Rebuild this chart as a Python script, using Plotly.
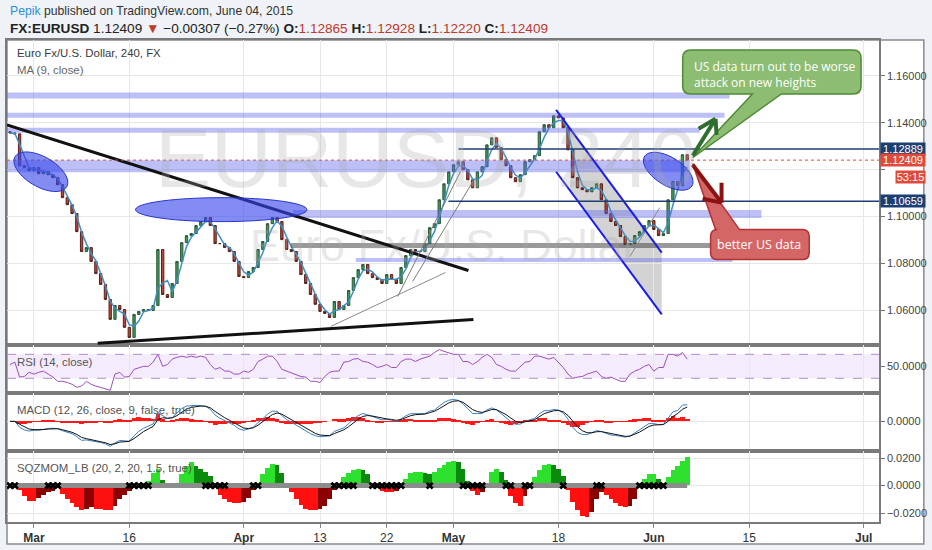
import numpy as np
import pandas as pd
import plotly.graph_objects as go
from plotly.subplots import make_subplots

# ---------------- data ----------------
first_open = 1.1362
# half-day closes, EUR/USD, from Feb 26 to Jun 04 2015
closes = [1.1357, 1.1353, 1.1217, 1.1209, 1.1196, 1.1209, 1.1183, 1.1192, 1.1179, 1.1166,
          1.1136, 1.1081, 1.1051, 1.1013, 1.0936, 1.0851, 1.0868, 1.0809, 1.0757, 1.0711,
          1.0647, 1.0562, 1.0621, 1.0604, 1.0528, 1.0485, 1.0583, 1.0596, 1.0604, 1.0600,
          1.0621, 1.0860, 1.0668, 1.0655, 1.0715, 1.0809, 1.0889, 1.0919, 1.0928, 1.0962,
          1.0979, 1.0996, 1.0962, 1.0885, 1.0885, 1.0868, 1.0851, 1.0809, 1.0745, 1.0740,
          1.0766, 1.0783, 1.0860, 1.0894, 1.0970, 1.0996, 1.0979, 1.0902, 1.0860, 1.0851,
          1.0809, 1.0753, 1.0715, 1.0668, 1.0626, 1.0596, 1.0587, 1.0570, 1.0638, 1.0604,
          1.0621, 1.0685, 1.0740, 1.0774, 1.0796, 1.0757, 1.0740, 1.0732, 1.0715, 1.0753,
          1.0732, 1.0715, 1.0783, 1.0834, 1.0860, 1.0851, 1.0851, 1.0885, 1.0953, 1.0970,
          1.1072, 1.1140, 1.1191, 1.1221, 1.1234, 1.1200, 1.1157, 1.1123, 1.1191, 1.1213,
          1.1306, 1.1336, 1.1294, 1.1243, 1.1217, 1.1166, 1.1149, 1.1179, 1.1234, 1.1243,
          1.1260, 1.1362, 1.1392, 1.1379, 1.1430, 1.1421, 1.1379, 1.1285, 1.1166, 1.1123,
          1.1115, 1.1106, 1.1123, 1.1140, 1.1072, 1.1013, 1.0979, 1.0962, 1.0915, 1.0881,
          1.0885, 1.0919, 1.0936, 1.0962, 1.0983, 1.0945, 1.0919, 1.0928, 1.1072, 1.1149,
          1.1132, 1.1264, 1.12409]

# RSI (14, close)
rsi_vals = [53, 57, 32, 33, 40, 37, 40, 42, 37, 32,
            25, 25, 23, 20, 15, 17, 25, 20, 17, 15,
            12, 10, 37, 40, 32, 33, 45, 48, 50, 50,
            57, 70, 50, 53, 62, 65, 67, 65, 67, 65,
            67, 65, 53, 45, 48, 42, 42, 37, 37, 42,
            40, 45, 58, 62, 67, 67, 58, 45, 42, 40,
            37, 33, 32, 25, 25, 23, 33, 40, 42, 42,
            57, 58, 62, 63, 58, 57, 53, 48, 50, 53,
            48, 48, 58, 62, 62, 58, 62, 65, 67, 73,
            78, 75, 73, 70, 70, 58, 58, 53, 58, 65,
            70, 65, 53, 50, 45, 42, 42, 50, 57, 58,
            67, 67, 65, 62, 65, 57, 48, 37, 30, 32,
            33, 37, 40, 42, 33, 30, 32, 28, 25, 25,
            37, 42, 45, 50, 53, 42, 48, 48, 70, 70,
            67, 73, 62]

# squeeze momentum histogram
sqz_mom = [0.000, 0.000, -0.003, -0.008, -0.011, -0.011, -0.009, -0.007, -0.005, -0.004,
           -0.002, -0.006, -0.010, -0.013, -0.016, -0.018, -0.017, -0.016, -0.017, -0.017,
           -0.018, -0.018, -0.015, -0.010, -0.007, -0.004, -0.001, 0.000, 0.000, 0.003,
           0.009, 0.012, 0.004, 0.000, -0.001, 0.001, 0.008, 0.014, 0.017, 0.014,
           0.012, 0.010, 0.007, -0.002, -0.007, -0.010, -0.012, -0.013, -0.013, -0.012,
           -0.009, -0.003, 0.001, 0.008, 0.013, 0.016, 0.015, 0.009, 0.002, -0.005,
           -0.010, -0.014, -0.017, -0.018, -0.018, -0.017, -0.015, -0.010, -0.003, 0.002,
           0.006, 0.009, 0.011, 0.012, 0.011, 0.008, 0.002, -0.002, -0.004, -0.005,
           -0.005, -0.004, -0.001, 0.005, 0.009, 0.010, 0.010, 0.009, 0.008, 0.010,
           0.013, 0.015, 0.017, 0.018, 0.017, 0.012, 0.003, -0.004, -0.007, -0.005,
           0.002, 0.010, 0.012, 0.010, 0.004, -0.008, -0.013, -0.015, -0.008, -0.002,
           0.006, 0.011, 0.015, 0.016, 0.015, 0.012, 0.007, -0.003, -0.012, -0.018,
           -0.022, -0.023, -0.019, -0.010, -0.005, -0.007, -0.010, -0.013, -0.015, -0.016,
           -0.015, -0.010, -0.002, 0.005, 0.008, 0.008, 0.005, 0.002, 0.006, 0.011,
           0.014, 0.018, 0.021]

# squeeze-on stretches (trading-day units)
squeeze_on = [(-2.7, -1.6), (1.4, 2.6), (10.0, 12.3), (17.9, 20.4), (23.0, 23.6),
              (31.5, 33.5), (35.3, 38.8), (41.1, 41.8), (45.0, 47.4), (49.3, 50.1),
              (51.1, 52.4), (55.1, 55.8), (58.9, 59.7), (63.1, 66.2)]

tick_days = [0, 10, 22, 30, 37, 44, 55, 65, 75, 87]
tick_labels = ['<b>Mar</b>', '16', '<b>Apr</b>', '13', '22', '<b>May</b>', '18',
               '<b>Jun</b>', '15', '<b>Jul</b>']
price_ticks = [1.06, 1.08, 1.10, 1.12, 1.14, 1.16]
price_tick_text = ['1.06000', '1.08000', '1.10000', '', '1.14000', '1.16000']
level_hi = 1.12889
level_lo = 1.10659
last_price = 1.12409
band_levels = [1.1517, 1.1432, 1.1368, 1.1215, 1.1011, 1.0815]
gray_level = 1.0877

# ---------------- geometry helpers ----------------
L_PX, R_PX, T_PX, B_PX = 5, 880, 40, 523
X0_PX, PX_DAY = 32.0, 9.57
P_REF, Y_REF, PX_PRICE = 1.16, 76.0, 2350.0


def dx(px):
    return (px - X0_PX) / PX_DAY


def dp(py):
    return P_REF - (py - Y_REF) / PX_PRICE


def pxp(p):
    return Y_REF + (P_REF - p) * PX_PRICE


def paper_x(px):
    return (px - L_PX) / (R_PX - L_PX)


def paper_y(py):
    return (B_PX - py) / (B_PX - T_PX)


def P(x, y):
    return f"{dx(x):.5f},{dp(y):.6f}"


# ---------------- derived series ----------------
c = np.array(closes)
o = np.r_[first_open, c[:-1]]
h = np.maximum(o, c)
lo = np.minimum(o, c)
days = -2.5 + 0.5 * np.arange(len(c))
s = pd.Series(c)
ma = s.rolling(3, min_periods=1).mean()

macd = s.ewm(span=4, adjust=False).mean() - s.ewm(span=9, adjust=False).mean()
sig = macd.ewm(span=3, adjust=False).mean()
hist = macd - sig

sq = np.array(sqz_mom)
sq_col = []
for i, v in enumerate(sq):
    pv = sq[i - 1] if i > 0 else 0
    if v >= 0:
        sq_col.append('#2ee02e' if v >= pv else '#0a8a0a')
    else:
        sq_col.append('#ff1010' if v <= pv else '#8b0000')
on = np.array([any(a <= d <= b for a, b in squeeze_on) for d in days])

# ---------------- figure ----------------
fig = make_subplots(rows=4, cols=1, shared_xaxes=True, vertical_spacing=0)

fig.add_trace(go.Candlestick(
    x=days, open=o, high=h, low=lo, close=c,
    increasing=dict(line=dict(color='#2c5a36', width=1), fillcolor='#3f9a5c'),
    decreasing=dict(line=dict(color='#5a2119', width=1), fillcolor='#b8473a'),
    whiskerwidth=0, showlegend=False, hoverinfo='skip'), row=1, col=1)
fig.add_trace(go.Scatter(x=days, y=ma, mode='lines',
                         line=dict(color='#3d8fc6', width=1.5),
                         showlegend=False, hoverinfo='skip'), row=1, col=1)

fig.add_trace(go.Scatter(x=days, y=rsi_vals, mode='lines',
                         line=dict(color='#9b4fb8', width=1),
                         showlegend=False, hoverinfo='skip'), row=2, col=1)

fig.add_trace(go.Bar(x=days, y=hist, marker=dict(color='#ff1a1a', line=dict(width=0)),
                     width=0.5, showlegend=False, hoverinfo='skip'), row=3, col=1)
fig.add_trace(go.Scatter(x=days, y=macd, mode='lines', line=dict(color='#3a7fc0', width=1),
                         showlegend=False, hoverinfo='skip'), row=3, col=1)
fig.add_trace(go.Scatter(x=days, y=sig, mode='lines', line=dict(color='#111111', width=1),
                         showlegend=False, hoverinfo='skip'), row=3, col=1)

fig.add_trace(go.Bar(x=days, y=sq, marker=dict(color=sq_col, line=dict(width=0)),
                     width=0.5, showlegend=False, hoverinfo='skip'), row=4, col=1)
fig.add_trace(go.Scatter(x=days, y=np.zeros(len(days)), mode='lines',
                         line=dict(color='#8c8c8c', width=5),
                         showlegend=False, hoverinfo='skip'), row=4, col=1)
fig.add_trace(go.Scatter(x=days[on], y=np.zeros(on.sum()), mode='markers',
                         marker=dict(symbol='x', size=7, color='#000000',
                                     line=dict(width=0)),
                         showlegend=False, hoverinfo='skip'), row=4, col=1)

AXF = dict(family='Liberation Sans, Arial', size=11, color='#444444')
grid = '#e7e7e7'
frame = '#7a7a7a'
xr = [dx(L_PX), dx(R_PX)]
for i in range(1, 5):
    key = 'xaxis' if i == 1 else f'xaxis{i}'
    fig.layout[key].update(range=xr, tickvals=tick_days, ticktext=tick_labels,
                           showgrid=True, gridcolor=grid, zeroline=False,
                           showline=True, mirror=True, linecolor=frame, linewidth=1.5,
                           showticklabels=(i == 4), ticks='outside' if i == 4 else '',
                           ticklen=4, tickcolor='#888',
                           tickfont=dict(family='Liberation Sans, Arial', size=12,
                                         color='#333'),
                           rangeslider=dict(visible=False), fixedrange=True)

d_main = [paper_y(346), 1]
d_rsi = [paper_y(394), paper_y(346)]
d_macd = [paper_y(452), paper_y(394)]
d_sqz = [0, paper_y(452)]

fig.update_layout(
    yaxis=dict(domain=d_main, range=[dp(346), dp(T_PX)],
               side='right', tickvals=price_ticks, ticktext=price_tick_text,
               showgrid=True, gridcolor=grid, zeroline=False, showline=True, mirror=True,
               linecolor=frame, linewidth=1.5, ticks='outside', ticklen=4,
               tickcolor='#777', tickfont=AXF),
    yaxis2=dict(domain=d_rsi, range=[5, 85], side='right', tickvals=[50],
                ticktext=['50.0000'], showgrid=False, zeroline=False, showline=True,
                mirror=True, linecolor=frame, linewidth=1.5, ticks='outside',
                ticklen=4, tickcolor='#777', tickfont=AXF),
)
m_pos = float(max(macd.max(), sig.max()))
m_neg = float(-min(macd.min(), sig.min()))
fig.update_layout(
    yaxis3=dict(domain=d_macd, range=[-m_neg * 31 / 26, m_pos * 27 / 21], side='right',
                tickvals=[0], ticktext=['0.0000'], showgrid=True, gridcolor=grid,
                zeroline=False, showline=True, mirror=True, linecolor=frame,
                linewidth=1.5, ticks='outside', ticklen=4, tickcolor='#777',
                tickfont=AXF),
    yaxis4=dict(domain=d_sqz, range=[-0.0265, 0.0251], side='right',
                tickvals=[-0.02, 0, 0.02], ticktext=['\u22120.0200', '0.0000', '0.0200'],
                showgrid=True, gridcolor=grid, zeroline=False, showline=True,
                mirror=True, linecolor=frame, linewidth=1.5, ticks='outside',
                ticklen=4, tickcolor='#777', tickfont=AXF),
)

shapes = []

# outer white frame
shapes.append(dict(type='rect', xref='paper', yref='paper', x0=0, x1=paper_x(925),
                   y0=paper_y(545), y1=1, fillcolor='white',
                   line=dict(color='#8a8a8a', width=1.5), layer='below'))

# RSI band
shapes.append(dict(type='rect', xref='x2 domain', yref='y2', x0=0, x1=1, y0=30, y1=70,
                   fillcolor='rgba(170,110,230,0.13)', line=dict(width=0), layer='below'))
for lvl in (30, 70):
    shapes.append(dict(type='line', xref='x2 domain', yref='y2', x0=0, x1=1, y0=lvl, y1=lvl,
                       line=dict(color='#b58cc9', width=1, dash='dash')))


def hband(level, x0, x1, thick, color):
    yc = pxp(level)
    shapes.append(dict(type='rect', xref='x', yref='y', x0=dx(x0), x1=dx(x1),
                       y0=dp(yc + thick / 2), y1=dp(yc - thick / 2),
                       fillcolor=color, line=dict(width=0), layer='above'))


lav = 'rgba(95,105,235,0.42)'
band_extent = [(5, 730, 6), (5, 725, 5), (5, 700, 5), (5, 690, 12), (292, 762, 8), (355, 733, 4)]
for lvl, (a, b, t) in zip(band_levels, band_extent):
    hband(lvl, a, b, t, lav)
hband(gray_level, 290, 715, 5, 'rgba(70,70,70,0.55)')


def pline(x0, y0, x1, y1, color, width, dash='solid', layer='above'):
    shapes.append(dict(type='line', xref='x', yref='y', x0=dx(x0), y0=dp(y0),
                       x1=dx(x1), y1=dp(y1), layer=layer,
                       line=dict(color=color, width=width, dash=dash)))


# grey shaded part of the channel
shapes.append(dict(type='path', xref='x', yref='y', layer='below',
                   path=f"M {P(570,129)} L {P(662,253)} L {P(662,315)} L {P(570,191)} Z",
                   fillcolor='rgba(120,120,120,0.33)', line=dict(width=0)))

# trendlines
pline(5, 125, 468, 271, '#111111', 3)
pline(96, 344, 473, 320, '#111111', 3)
pline(330, 327, 445, 273, '#8a8a8a', 1)
pline(397, 297, 460, 172, '#7a7a7a', 1)
pline(412, 282, 473, 181, '#7a7a7a', 1)
pline(630, 257, 660, 208, '#8a8a8a', 1)
# channel
pline(556, 110, 662, 253, '#1c1ce8', 2)
pline(556, 172, 662, 315, '#1c1ce8', 2)
# levels
hy = pxp(level_hi)
ly = pxp(level_lo)
cy = pxp(last_price)
pline(458, hy, 880, hy, '#1f3d70', 1.5)
pline(448, ly, 880, ly, '#1f3d70', 1.5)
pline(5, cy, 880, cy, '#e04a3a', 1, 'dot')


def ellipse(cx, cy_, a, b, ang):
    t = np.linspace(0, 2 * np.pi, 60)
    th = np.deg2rad(ang)
    xs = cx + a * np.cos(t) * np.cos(th) - b * np.sin(t) * np.sin(th)
    ys = cy_ + a * np.cos(t) * np.sin(th) + b * np.sin(t) * np.cos(th)
    pts = ' L '.join(P(x, y) for x, y in zip(xs, ys))
    shapes.append(dict(type='path', xref='x', yref='y', path=f"M {pts} Z",
                       fillcolor='rgba(55,70,235,0.62)',
                       line=dict(color='#2a35c8', width=1)))


ellipse(39, 172, 30, 15, 30)
ellipse(220, 210, 86, 12, 0)
ellipse(668.5, 171.5, 28, 14, 32)


def bubble_bottom_tail(x0, y0, x1, y1, r, ta, tb, tip, fill, edge):
    path = (f"M {P(x0+r,y0)} L {P(x1-r,y0)} Q {P(x1,y0)} {P(x1,y0+r)} "
            f"L {P(x1,y1-r)} Q {P(x1,y1)} {P(x1-r,y1)} L {P(tb,y1)} L {P(*tip)} "
            f"L {P(ta,y1)} L {P(x0+r,y1)} Q {P(x0,y1)} {P(x0,y1-r)} "
            f"L {P(x0,y0+r)} Q {P(x0,y0)} {P(x0+r,y0)} Z")
    shapes.append(dict(type='path', xref='x', yref='y', path=path, fillcolor=fill,
                       line=dict(color=edge, width=1.5)))


def bubble_top_tail(x0, y0, x1, y1, r, ta, tb, tip, fill, edge):
    path = (f"M {P(x0+r,y0)} L {P(ta,y0)} L {P(*tip)} L {P(tb,y0)} "
            f"L {P(x1-r,y0)} Q {P(x1,y0)} {P(x1,y0+r)} "
            f"L {P(x1,y1-r)} Q {P(x1,y1)} {P(x1-r,y1)} "
            f"L {P(x0+r,y1)} Q {P(x0,y1)} {P(x0,y1-r)} "
            f"L {P(x0,y0+r)} Q {P(x0,y0)} {P(x0+r,y0)} Z")
    shapes.append(dict(type='path', xref='x', yref='y', path=path, fillcolor=fill,
                       line=dict(color=edge, width=1.5)))


bubble_bottom_tail(683, 50, 862, 94, 8, 753, 782, (693, 158), '#8dbd73', '#4f8a36')
bubble_top_tail(711, 230, 810, 260, 7, 716, 740, (693, 164), '#d56666', '#b03232')

# arrows (drawn above the callout tails)
pline(693, 156, 716, 119, '#2f6e2f', 4)
pline(716, 119, 699, 129, '#2f6e2f', 4)
pline(716, 119, 717, 135, '#2f6e2f', 4)
pline(693, 165, 722, 203, '#8b1212', 4)
pline(722, 203, 722, 183, '#8b1212', 4)
pline(722, 203, 703, 199, '#8b1212', 4)

ann = []


def text(x, y, t, size=12, color='#444', xanchor='left', family='Open Sans', **kw):
    ann.append(dict(xref='paper', yref='paper', x=paper_x(x), y=paper_y(y), text=t,
                    showarrow=False, xanchor=xanchor, yanchor='middle',
                    font=dict(family=family, size=size, color=color), **kw))


# watermark
text(425, 158, 'EURUSD, 240', size=84, color='rgba(170,170,170,0.28)', xanchor='center',
     family='Liberation Sans, Arial')
text(444, 246, 'Euro Fx/U.S. Dollar', size=45, color='rgba(170,170,170,0.28)',
     xanchor='center', family='Liberation Sans, Arial')

# header
HF = 'Liberation Sans, Arial'
text(6, 11, "<span style='color:#2a8fd6'>Pepik</span> published on TradingView.com, "
     "June 04, 2015", size=12.2, color='#333', family=HF)
red = '#c0392b'
text(6, 28, f"<b>FX:EURUSD</b> 1.12409 <span style='color:{red}'>\u25bc</span> "
     f"\u22120.00307 (\u22120.27%) <b>O:</b><span style='color:{red}'>1.12865</span> "
     f"<b>H:</b><span style='color:{red}'>1.12928</span> "
     f"<b>L:</b><span style='color:{red}'>1.12220</span> "
     f"<b>C:</b><span style='color:{red}'>1.12409</span>", size=13.6, color='#222',
     family=HF)

# pane titles
TF = 'Liberation Sans, Arial'
TS = 11.4
text(13, 53, 'Euro Fx/U.S. Dollar, 240, FX', size=TS, color='#3a3a3a', family=TF)
text(13, 70, 'MA (9, close)', size=TS, color='#666', family=TF)
text(13, 363, 'RSI (14, close)', size=TS, color='#555', family=TF)
text(13, 411, 'MACD (12, 26, close, 9, false, true)', size=TS, color='#555', family=TF)
text(13, 469, 'SQZMOM_LB (20, 2, 20, 1.5, true)', size=TS, color='#555', family=TF)

# callout texts
ann.append(dict(xref='paper', yref='paper', x=paper_x(692), y=paper_y(56),
                text='US data turn out to be worse<br>attack on new heights',
                showarrow=False, xanchor='left', yanchor='top', align='left',
                font=dict(family='Open Sans', size=12, color='white')))
text(760, 245, 'better US data', size=12.5, color='white', xanchor='center')


# price markers on the right axis
def marker(y, t, bg, x=881, w=44):
    ann.append(dict(xref='paper', yref='paper', x=paper_x(x), y=paper_y(y), text=t,
                    showarrow=False, xanchor='left', yanchor='middle', width=w,
                    bgcolor=bg, borderpad=0, align='center',
                    font=dict(family='Liberation Sans, Arial', size=11, color='white')))


marker(pxp(level_hi), '1.12889', '#1c3f73')
marker(pxp(last_price), '1.12409', '#e04a3a')
marker(177, '53:15', '#e04a3a', x=896, w=29)
marker(pxp(level_lo), '1.10659', '#1c3f73')

fig.update_layout(
    width=932, height=550,
    margin=dict(l=L_PX, r=932 - R_PX, t=T_PX, b=550 - B_PX),
    paper_bgcolor='#eff2f6', plot_bgcolor='white',
    shapes=shapes, annotations=ann, showlegend=False, bargap=0,
    font=dict(family='Liberation Sans, Arial'),
)

fig.write_html("out.html", config={'displayModeBar': False},
               post_script="document.body.style.margin='0px';")
